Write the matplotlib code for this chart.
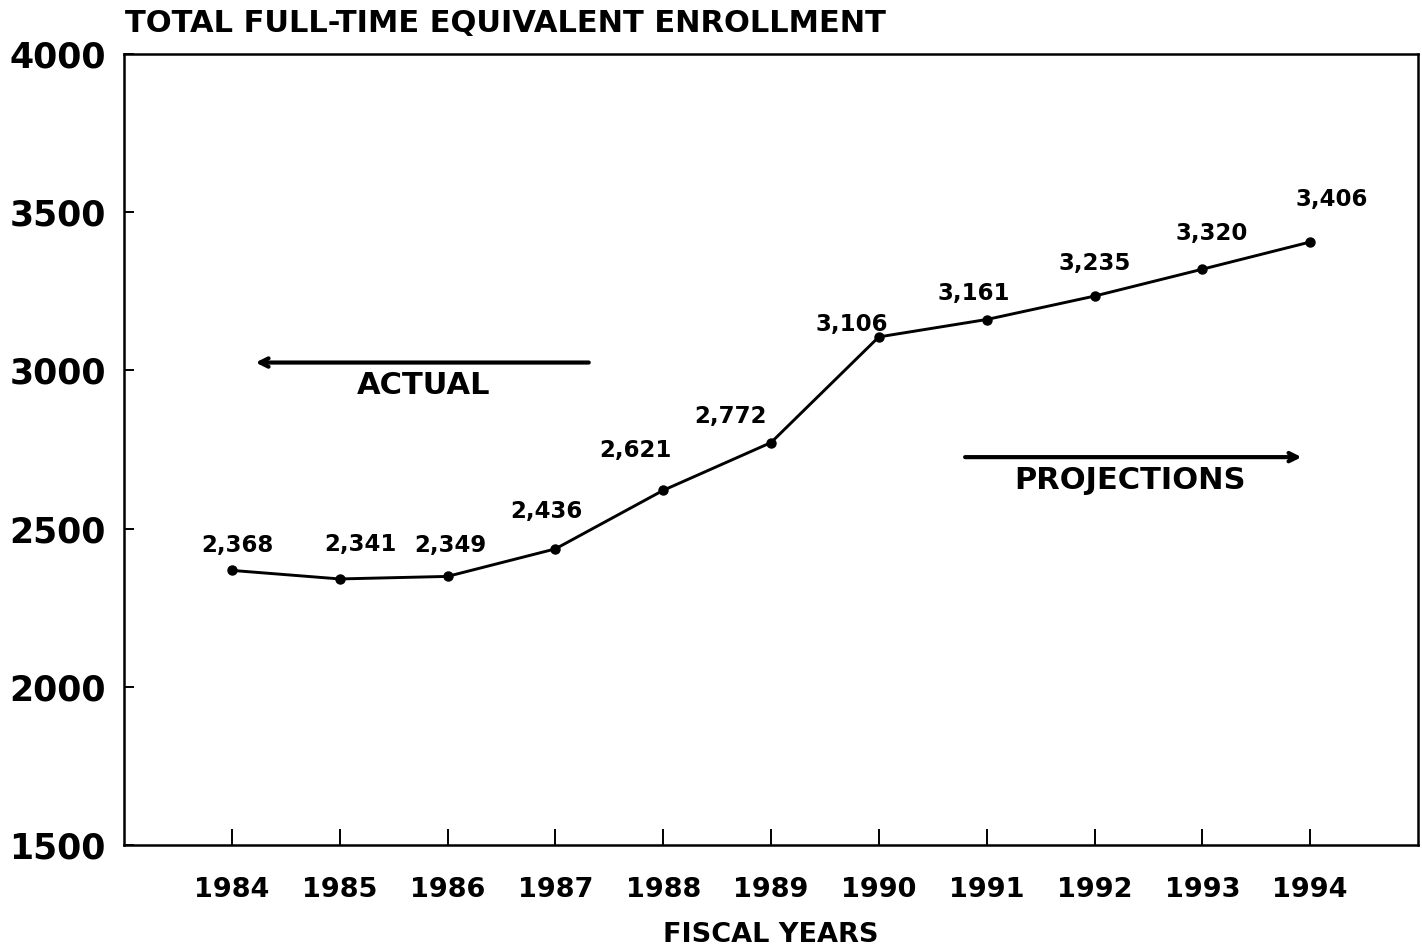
import matplotlib
matplotlib.use("Agg")
import matplotlib.pyplot as plt

# Data
YEARS = [1984, 1985, 1986, 1987, 1988, 1989, 1990, 1991, 1992, 1993, 1994]
ENROLLMENT = [2368, 2341, 2349, 2436, 2621, 2772, 3106, 3161, 3235, 3320, 3406]
Y_TICKS = [1500, 2000, 2500, 3000, 3500, 4000]

TITLE = 'TOTAL FULL-TIME EQUIVALENT ENROLLMENT'
X_LABEL = 'FISCAL YEARS'

# label offsets in pixels (dx, dy) relative to each point
LABEL_OFFSETS = [(6, 25), (21, 34), (3, 31), (-9, 37), (-28, 40), (-41, 26),
                 (-27, 12), (-13, 26), (0, 33), (9, 36), (22, 42)]

plt.rcParams['font.family'] = 'DejaVu Sans'
plt.rcParams['font.weight'] = 'bold'

fig = plt.figure(figsize=(14.22, 9.5), dpi=100)
ax = fig.add_axes([0.0872, 0.1105, 0.9100, 0.8326])

ax.plot(YEARS, ENROLLMENT, color='black', linewidth=2.1,
        marker='o', markersize=6.5, markerfacecolor='black', zorder=3)

for x, y, (dx, dy) in zip(YEARS, ENROLLMENT, LABEL_OFFSETS):
    ax.annotate('{:,}'.format(y), (x, y), xytext=(dx, dy),
                textcoords='offset pixels', ha='center', va='center',
                fontsize=16.5, fontweight='bold')

ax.set_xlim(1983, 1995)
ax.set_ylim(1500, 4000)
ax.set_xticks(YEARS)
ax.set_yticks(Y_TICKS)
ax.tick_params(axis='x', direction='in', length=11.5, width=1.4,
               labelsize=19.5, pad=23)
ax.tick_params(axis='y', direction='in', length=7, width=1.4,
               labelsize=25, pad=13)
for lab in ax.get_xticklabels() + ax.get_yticklabels():
    lab.set_fontweight('bold')
for spine in ax.spines.values():
    spine.set_linewidth(1.8)

ax.set_xlabel(X_LABEL, fontsize=19.5, fontweight='bold', labelpad=14)
fig.text(0.088, 0.975, TITLE, fontsize=22, fontweight='bold',
         ha='left', va='center')

# Actual / projections arrows
ax.annotate('', xy=(1984.22, 3025), xytext=(1987.31, 3025),
            arrowprops=dict(arrowstyle='->,head_length=0.6,head_width=0.3',
                            lw=3, color='black', shrinkA=0, shrinkB=0))
ax.text(1985.78, 2953, 'ACTUAL', fontsize=22, fontweight='bold',
        ha='center', va='center')
ax.annotate('', xy=(1993.92, 2726), xytext=(1990.8, 2726),
            arrowprops=dict(arrowstyle='->,head_length=0.6,head_width=0.3',
                            lw=3, color='black', shrinkA=0, shrinkB=0))
ax.text(1992.33, 2653, 'PROJECTIONS', fontsize=22, fontweight='bold',
        ha='center', va='center')

fig.savefig('out.png', dpi=100)
